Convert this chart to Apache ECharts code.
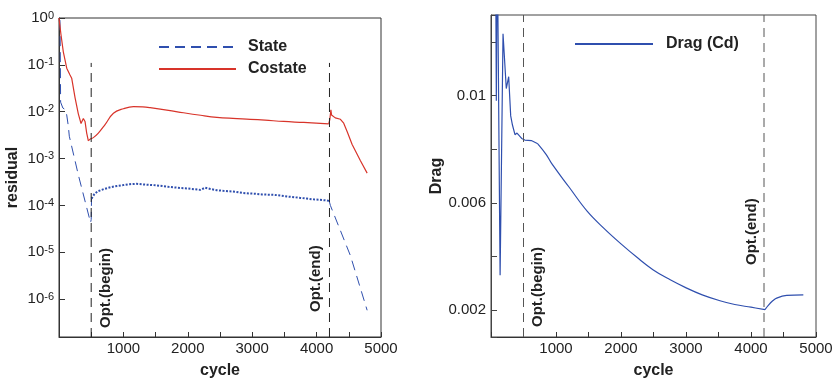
<!DOCTYPE html>
<html>
<head>
<meta charset="utf-8">
<script src="https://cdn.jsdelivr.net/npm/echarts@6/dist/echarts.min.js"></script>
<style>
  html, body { margin: 0; padding: 0; background: #fff; }
  #main { width: 836px; height: 384px; }
</style>
</head>
<body>
<div id="main"></div>
<script>
// residual history, left panel: [cycle, residual]
const stateEarly = [[15, 0.9], [20, 0.2], [25, 0.016], [60, 0.012], [100, 0.011], [120, 0.0085],
  [145, 0.0049], [160, 0.003], [300, 4.5e-4], [490, 4.3e-5], [500, 5e-5], [505, 1.4e-4]]
const stateMid = [[505, 1.4e-4], [550, 1.75e-4], [600, 2.0e-4], [700, 2.25e-4], [800, 2.45e-4],
  [900, 2.6e-4], [1000, 2.72e-4], [1100, 2.85e-4], [1200, 2.9e-4], [1300, 2.82e-4], [1400, 2.75e-4],
  [1500, 2.7e-4], [1600, 2.6e-4], [1700, 2.5e-4], [1800, 2.42e-4], [1900, 2.35e-4], [2000, 2.3e-4],
  [2100, 2.22e-4], [2200, 2.15e-4], [2270, 2.4e-4], [2350, 2.25e-4], [2450, 2.12e-4], [2550, 2.05e-4],
  [2650, 2.0e-4], [2750, 1.95e-4], [2850, 1.85e-4], [2950, 1.8e-4], [3050, 1.78e-4], [3150, 1.72e-4],
  [3250, 1.7e-4], [3350, 1.68e-4], [3450, 1.62e-4], [3550, 1.55e-4], [3650, 1.5e-4], [3750, 1.45e-4],
  [3850, 1.4e-4], [3950, 1.35e-4], [4050, 1.32e-4], [4150, 1.28e-4], [4195, 1.25e-4]]
const stateLate = [[4195, 1.25e-4], [4214, 1.0e-4], [4525, 8.5e-6], [4785, 5.8e-7]]
const costateEarly = [[0, 1.0], [30, 0.45], [67, 0.19], [120, 0.085], [171, 0.061], [197, 0.052],
  [249, 0.02], [300, 0.009], [342, 0.0056], [378, 0.0072], [404, 0.0062], [430, 0.0035],
  [456, 0.0024]]
const costateMid = [[456, 0.0024], [482, 0.0026], [533, 0.0028], [611, 0.0035], [715, 0.0053],
  [845, 0.0093], [1000, 0.0116], [1156, 0.0129], [1300, 0.0127], [1415, 0.0122], [1700, 0.0107],
  [1933, 0.0095], [2200, 0.0084], [2452, 0.0076], [2700, 0.0072], [2970, 0.0069], [3200, 0.0066],
  [3489, 0.0062], [3800, 0.0059], [4188, 0.0055]]
const costateLate = [[4188, 0.0055], [4205, 0.0068], [4222, 0.011], [4232, 0.0085], [4245, 0.0078],
  [4290, 0.0074], [4370, 0.0069], [4421, 0.0057], [4480, 0.0036], [4552, 0.002], [4681, 0.0009],
  [4785, 0.00049]]

// drag history, right panel: [cycle, Cd]
const dragEarly = [[70, 0.016], [82, 0.0098], [96, 0.016], [112, 0.016], [140, 0.0033], [185, 0.0123],
  [235, 0.01026], [272, 0.0107], [303, 0.00924], [330, 0.0089], [369, 0.00854], [400, 0.0086],
  [472, 0.0084], [520, 0.00834], [620, 0.00832], [720, 0.0082]]
const dragOpt = [[720, 0.0082], [850, 0.0078], [943, 0.00743], [1200, 0.00659], [1482, 0.00568],
  [1750, 0.00502], [2000, 0.00447], [2250, 0.00396], [2497, 0.0035], [2750, 0.00314], [2995, 0.00284],
  [3250, 0.00257], [3523, 0.00235], [3750, 0.00221], [4000, 0.00211], [4215, 0.00202]]
const dragLate = [[4215, 0.00202], [4266, 0.00218], [4330, 0.00234], [4395, 0.00245], [4549, 0.00255],
  [4805, 0.00257]]

// optimisation start / end cycles
const optCycles = [500, 4200]
const optLabels = ['Opt.(begin)', 'Opt.(end)']
const resMin = 1.56e-7
const resMarkTop = 0.11
const dragRange = [0.001, 0.013]

const FONT = "'Liberation Sans', Arial, sans-serif"
const AXIS_COLOR = '#333'
const BLUE = '#2f4fae'
const RED = '#d8342a'

const myChart = echarts.init(document.getElementById('main'), null, { renderer: 'canvas' })

function cycleLabel(v) {
  return (v > 0 && v % 1000 === 0) ? String(v) : ''
}

function xAxisOf(gridIndex) {
  return {
    type: 'value', gridIndex: gridIndex, min: 0, max: 5000, interval: 500,
    name: 'cycle', nameLocation: 'middle', nameGap: 26,
    nameTextStyle: { fontFamily: FONT, fontWeight: 'bold', fontSize: 16, color: '#222' },
    axisLine: { show: true, lineStyle: { color: AXIS_COLOR, width: 1 } },
    axisTick: { show: true, inside: true, length: 5, lineStyle: { color: AXIS_COLOR } },
    axisLabel: { formatter: cycleLabel, fontFamily: FONT, fontSize: 15, color: '#222', margin: 4 },
    splitLine: { show: false }
  }
}

function lineSeries(name, axis, data, color, width, type, smooth) {
  return {
    type: 'line', name: name, xAxisIndex: axis, yAxisIndex: axis, symbol: 'none',
    smooth: smooth || false,
    lineStyle: { color: color, width: width, type: type || 'solid' }, itemStyle: { color: color },
    data: data
  }
}

const optSeries = []
optCycles.forEach((c, i) => {
  optSeries.push({
    type: 'line', name: 'optL' + i, xAxisIndex: 0, yAxisIndex: 0, symbol: 'none', silent: true,
    lineStyle: { color: '#222', width: 1, type: [9, 6] },
    data: [[c, resMin], [c, resMarkTop]]
  })
  optSeries.push({
    type: 'line', name: 'optR' + i, xAxisIndex: 1, yAxisIndex: 1, symbol: 'none', silent: true,
    lineStyle: { color: '#555', width: 1, type: [9, 6] },
    data: [[c, dragRange[0]], [c, dragRange[1]]]
  })
})

function optText(x, y, text) {
  return {
    type: 'text', x: x, y: y, rotation: Math.PI / 2, silent: true,
    style: { text: text, font: 'bold 15px ' + FONT, fill: '#222', textAlign: 'left', textVerticalAlign: 'middle' }
  }
}

const option = {
  animation: false,
  backgroundColor: '#fff',
  grid: [
    { left: 59, top: 18, width: 322, height: 330, show: true, borderColor: AXIS_COLOR, borderWidth: 1 },
    { left: 491, top: 15, width: 325, height: 333, show: true, borderColor: '#444', borderWidth: 1 }
  ],
  legend: [
    {
      data: ['State', 'Costate'], orient: 'vertical', left: 153, top: 34,
      itemWidth: 77, itemHeight: 14, itemGap: 6, itemStyle: { opacity: 0 },
      textStyle: { fontFamily: FONT, fontWeight: 'bold', fontSize: 16, color: '#222', padding: [0, 0, 0, 7] }
    },
    {
      data: ['Drag (Cd)'], orient: 'vertical', left: 569, top: 31,
      itemWidth: 78, itemHeight: 14, itemStyle: { opacity: 0 },
      textStyle: { fontFamily: FONT, fontWeight: 'bold', fontSize: 16, color: '#222', padding: [0, 0, 0, 8] }
    }
  ],
  xAxis: [xAxisOf(0), xAxisOf(1)],
  yAxis: [
    {
      type: 'log', gridIndex: 0, logBase: 10, min: resMin, max: 1,
      name: 'residual', nameLocation: 'middle', nameGap: 38,
      nameTextStyle: { fontFamily: FONT, fontWeight: 'bold', fontSize: 16, color: '#222' },
      axisLine: { show: true, lineStyle: { color: AXIS_COLOR, width: 1 } },
      axisTick: { show: true, inside: true, length: 6, lineStyle: { color: AXIS_COLOR } },
      axisLabel: {
        margin: 5,
        formatter: function (v) {
          const l = Math.log10(v)
          const n = Math.round(l)
          if (Math.abs(l - n) > 0.01) return ''
          return '{b|10}{s|' + n + '}'
        },
        rich: {
          b: { fontFamily: FONT, fontSize: 15, color: '#222', lineHeight: 16 },
          s: { fontFamily: FONT, fontSize: 11, color: '#222', lineHeight: 10, verticalAlign: 'top' }
        }
      },
      splitLine: { show: false }
    },
    {
      type: 'value', gridIndex: 1, min: dragRange[0], max: dragRange[1], splitNumber: 5,
      name: 'Drag', nameLocation: 'middle', nameGap: 38,
      nameTextStyle: { fontFamily: FONT, fontWeight: 'bold', fontSize: 16, color: '#222' },
      axisLine: { show: true, lineStyle: { color: '#444', width: 1 } },
      axisTick: { show: true, inside: true, length: 6, lineStyle: { color: '#444' } },
      axisLabel: {
        margin: 5, fontFamily: FONT, fontSize: 15, color: '#222',
        formatter: function (v) {
          const k = Math.round((v - 0.002) / 0.004 * 1000) / 1000
          return (Math.abs(k - Math.round(k)) < 1e-6 && v > 0.0015) ? String(+v.toFixed(4)) : ''
        }
      },
      splitLine: { show: false }
    }
  ],
  series: [
    lineSeries('State', 0, stateEarly, BLUE, 1, [10, 6]),
    lineSeries('State', 0, stateMid, BLUE, 2, [2, 1.5]),
    lineSeries('State', 0, stateLate, BLUE, 1, [10, 6]),
    lineSeries('Costate', 0, costateEarly, RED, 1.2),
    lineSeries('Costate', 0, costateMid, RED, 1.2, 'solid', 0.4),
    lineSeries('Costate', 0, costateLate, RED, 1.2),
    lineSeries('Drag (Cd)', 1, dragEarly, BLUE, 1.2),
    lineSeries('Drag (Cd)', 1, dragOpt, BLUE, 1.2, 'solid', 0.4),
    lineSeries('Drag (Cd)', 1, dragLate, BLUE, 1.2, 'solid', 0.4)
  ].concat(optSeries),
  graphic: [
    optText(106, 328, optLabels[0]),
    optText(316, 312, optLabels[1]),
    optText(538, 327, optLabels[0]),
    optText(752, 265, optLabels[1])
  ]
}

option && myChart.setOption(option)
</script>
</body>
</html>
